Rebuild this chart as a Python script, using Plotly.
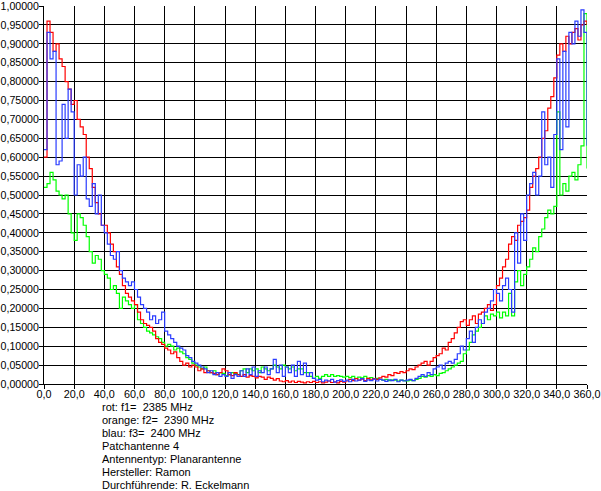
import plotly.graph_objects as go

angles = list(range(0, 361, 2))

red_f1 = [
    0.60, 0.96, 0.93, 0.88, 0.90, 0.86, 0.84, 0.80, 0.78, 0.74,
    0.75, 0.70, 0.68, 0.66, 0.60, 0.57, 0.52, 0.48, 0.45, 0.42,
    0.42, 0.40, 0.37, 0.35, 0.31, 0.29, 0.26, 0.24, 0.23, 0.22,
    0.21, 0.19, 0.17, 0.16, 0.155, 0.15, 0.14, 0.12, 0.11, 0.105,
    0.095, 0.09, 0.08, 0.085, 0.07, 0.06, 0.05, 0.055, 0.045, 0.05,
    0.045, 0.035, 0.04, 0.03, 0.035, 0.03, 0.028, 0.025, 0.03, 0.04,
    0.035, 0.025, 0.022, 0.03, 0.025, 0.02, 0.025, 0.018, 0.022, 0.02,
    0.016, 0.02, 0.018, 0.012, 0.018, 0.015, 0.01, 0.014, 0.008, 0.006,
    0.009, 0.005, 0.008, 0.004, 0.007, 0.005, 0.003, 0.006, 0.004, 0.007,
    0.004, 0.006, 0.003, 0.005, 0.008, 0.004, 0.006, 0.003, 0.007, 0.005,
    0.008, 0.012, 0.009, 0.014, 0.01, 0.013, 0.009, 0.015, 0.011, 0.014,
    0.012, 0.016, 0.02, 0.018, 0.025, 0.022, 0.03, 0.028, 0.033, 0.03,
    0.035, 0.04, 0.038, 0.045, 0.05, 0.055, 0.06, 0.05, 0.06, 0.07,
    0.075, 0.08, 0.095, 0.09, 0.11, 0.12, 0.135, 0.15, 0.165, 0.17,
    0.155, 0.17, 0.18, 0.16, 0.185, 0.19, 0.20, 0.21, 0.195, 0.21,
    0.26, 0.28, 0.31, 0.33, 0.37, 0.39, 0.38, 0.42, 0.43, 0.44,
    0.46, 0.52, 0.55, 0.57, 0.60, 0.65, 0.67, 0.73, 0.76, 0.81,
    0.87, 0.90, 0.88, 0.92, 0.90, 0.93, 0.94, 0.91, 0.95, 0.96,
    0.95,
]

green_f2 = [
    0.52, 0.53, 0.56, 0.54, 0.51, 0.50, 0.49, 0.50, 0.45, 0.40,
    0.38, 0.45, 0.44, 0.42, 0.39, 0.35, 0.32, 0.34, 0.33, 0.30,
    0.29, 0.28, 0.25, 0.26, 0.24, 0.20, 0.23, 0.22, 0.21, 0.20,
    0.21, 0.17, 0.16, 0.15, 0.14, 0.135, 0.13, 0.125, 0.12, 0.11,
    0.10, 0.105, 0.10, 0.09, 0.095, 0.085, 0.08, 0.07, 0.065, 0.055,
    0.05, 0.045, 0.04, 0.045, 0.035, 0.03, 0.035, 0.025, 0.03, 0.028,
    0.022, 0.025, 0.03, 0.028, 0.025, 0.035, 0.04, 0.03, 0.04, 0.035,
    0.04, 0.03, 0.045, 0.04, 0.035, 0.04, 0.05, 0.045, 0.04, 0.05,
    0.045, 0.04, 0.045, 0.035, 0.04, 0.04, 0.03, 0.03, 0.02, 0.015,
    0.02, 0.015, 0.02, 0.025, 0.02, 0.025, 0.02, 0.022, 0.02, 0.018,
    0.02, 0.017, 0.02, 0.015, 0.018, 0.016, 0.02, 0.015, 0.017, 0.014,
    0.015, 0.012, 0.01, 0.012, 0.009, 0.011, 0.01, 0.008, 0.01, 0.009,
    0.008, 0.01, 0.009, 0.012, 0.015, 0.02, 0.018, 0.022, 0.02, 0.025,
    0.022, 0.028, 0.03, 0.035, 0.04, 0.045, 0.05, 0.055, 0.06, 0.08,
    0.09, 0.11, 0.13, 0.14, 0.15, 0.16, 0.18, 0.17, 0.185, 0.18,
    0.19, 0.175, 0.19, 0.18, 0.24, 0.18, 0.27, 0.30, 0.26, 0.29,
    0.31, 0.33, 0.36, 0.35, 0.39, 0.41, 0.44, 0.46, 0.45, 0.47,
    0.72, 0.50, 0.53, 0.51, 0.55, 0.56, 0.54, 0.58, 0.63, 0.98,
    0.57,
]

blue_f3 = [
    0.62, 0.93, 0.86, 0.88, 0.58, 0.59, 0.74, 0.65, 0.78, 0.72,
    0.50, 0.58, 0.55, 0.60, 0.49, 0.47, 0.53, 0.45, 0.50, 0.42,
    0.40, 0.37, 0.34, 0.33, 0.35, 0.30, 0.28, 0.27, 0.26, 0.27,
    0.25, 0.23, 0.21, 0.20, 0.19, 0.17, 0.18, 0.16, 0.17, 0.19,
    0.14, 0.13, 0.12, 0.11, 0.10, 0.095, 0.09, 0.075, 0.07, 0.06,
    0.055, 0.05, 0.045, 0.04, 0.03, 0.035, 0.025, 0.03, 0.02, 0.025,
    0.02, 0.03, 0.015, 0.025, 0.02, 0.035, 0.02, 0.04, 0.025, 0.045,
    0.02, 0.035, 0.03, 0.045, 0.025, 0.04, 0.065, 0.03, 0.05, 0.02,
    0.045, 0.03, 0.05, 0.02, 0.06, 0.025, 0.055, 0.02, 0.03, 0.015,
    0.01, 0.012, 0.006, 0.01, 0.008, 0.012, 0.005, 0.009, 0.011, 0.007,
    0.01, 0.006, 0.012, 0.008, 0.01, 0.014, 0.007, 0.011, 0.009, 0.013,
    0.008, 0.012, 0.01, 0.007, 0.011, 0.009, 0.012, 0.006, 0.01, 0.008,
    0.01, 0.012, 0.009, 0.015, 0.02, 0.025, 0.02, 0.03, 0.025, 0.04,
    0.045, 0.05, 0.04, 0.055, 0.06, 0.055, 0.065, 0.08, 0.10, 0.09,
    0.12, 0.14, 0.11, 0.15, 0.17, 0.16, 0.19, 0.20, 0.22, 0.25,
    0.24, 0.22, 0.26, 0.28, 0.25, 0.19, 0.40, 0.32, 0.45, 0.38,
    0.50, 0.53, 0.56, 0.50, 0.55, 0.72, 0.58, 0.60, 0.52, 0.66,
    0.86, 0.62, 0.88, 0.68, 0.93, 0.90, 0.96, 0.92, 0.99, 0.93,
    0.63,
]

y_ticks = [i / 20 for i in range(21)]
y_tick_labels = [f"{v:.5f}".replace(".", ",") for v in y_ticks]
x_ticks = list(range(0, 361, 20))
x_tick_labels = [f"{v:.1f}".replace(".", ",") for v in x_ticks]

info_lines = [
    "rot: f1=\u00a0\u00a02385 MHz",
    "orange: f2=\u00a0\u00a02390 MHz",
    "blau: f3=\u00a0\u00a02400 MHz",
    "Patchantenne 4",
    "Antennentyp: Planarantenne",
    "Hersteller: Ramon",
    "Durchführende: R. Eckelmann",
]

FONT = "Liberation Sans"

fig = go.Figure()
for ys, col in [(green_f2, "#00ff00"), (red_f1, "#ff0000"), (blue_f3, "#2a3cff")]:
    fig.add_trace(go.Scatter(x=angles, y=ys, mode="lines",
                             line=dict(color=col, width=1.2, shape="hv"),
                             showlegend=False, hoverinfo="skip", cliponaxis=False))

W, H = 601, 491
L, R, T, B = 44, 14, 6, 107
plot_h = H - T - B

for i, line in enumerate(info_lines):
    ypix = 407 + i * 13.05  # centre of each text line in pixels
    fig.add_annotation(text=line, xref="paper", yref="paper",
                       x=(100 - L) / (W - L - R), xanchor="left",
                       y=-(ypix - (H - B)) / plot_h, yanchor="middle",
                       showarrow=False, font=dict(family=FONT, size=11, color="black"))

axis_common = dict(showgrid=True, gridcolor="black", gridwidth=1,
                   showline=True, linecolor="black", linewidth=1,
                   ticks="outside", ticklen=4, tickcolor="black",
                   zeroline=False, automargin=False, ticklabeloverflow="allow")

fig.update_layout(
    width=W, height=H,
    margin=dict(l=L, r=R, t=T, b=B, pad=0, autoexpand=False),
    paper_bgcolor="white", plot_bgcolor="white",
    font=dict(family=FONT, size=11, color="black"),
    xaxis=dict(range=[0, 360], tickmode="array", tickvals=x_ticks,
               ticktext=x_tick_labels, ticklabelstandoff=-4,
               tickfont=dict(family=FONT, size=10.8, color="black"), **axis_common),
    yaxis=dict(range=[0, 1], tickmode="array", tickvals=y_ticks,
               ticktext=y_tick_labels, ticklabelstandoff=-2,
               tickfont=dict(family=FONT, size=10.6, color="black"), **axis_common),
)

fig.write_html("out.html", config={"displayModeBar": False},
               post_script="document.body.style.margin='0';document.body.style.overflow='hidden';")
